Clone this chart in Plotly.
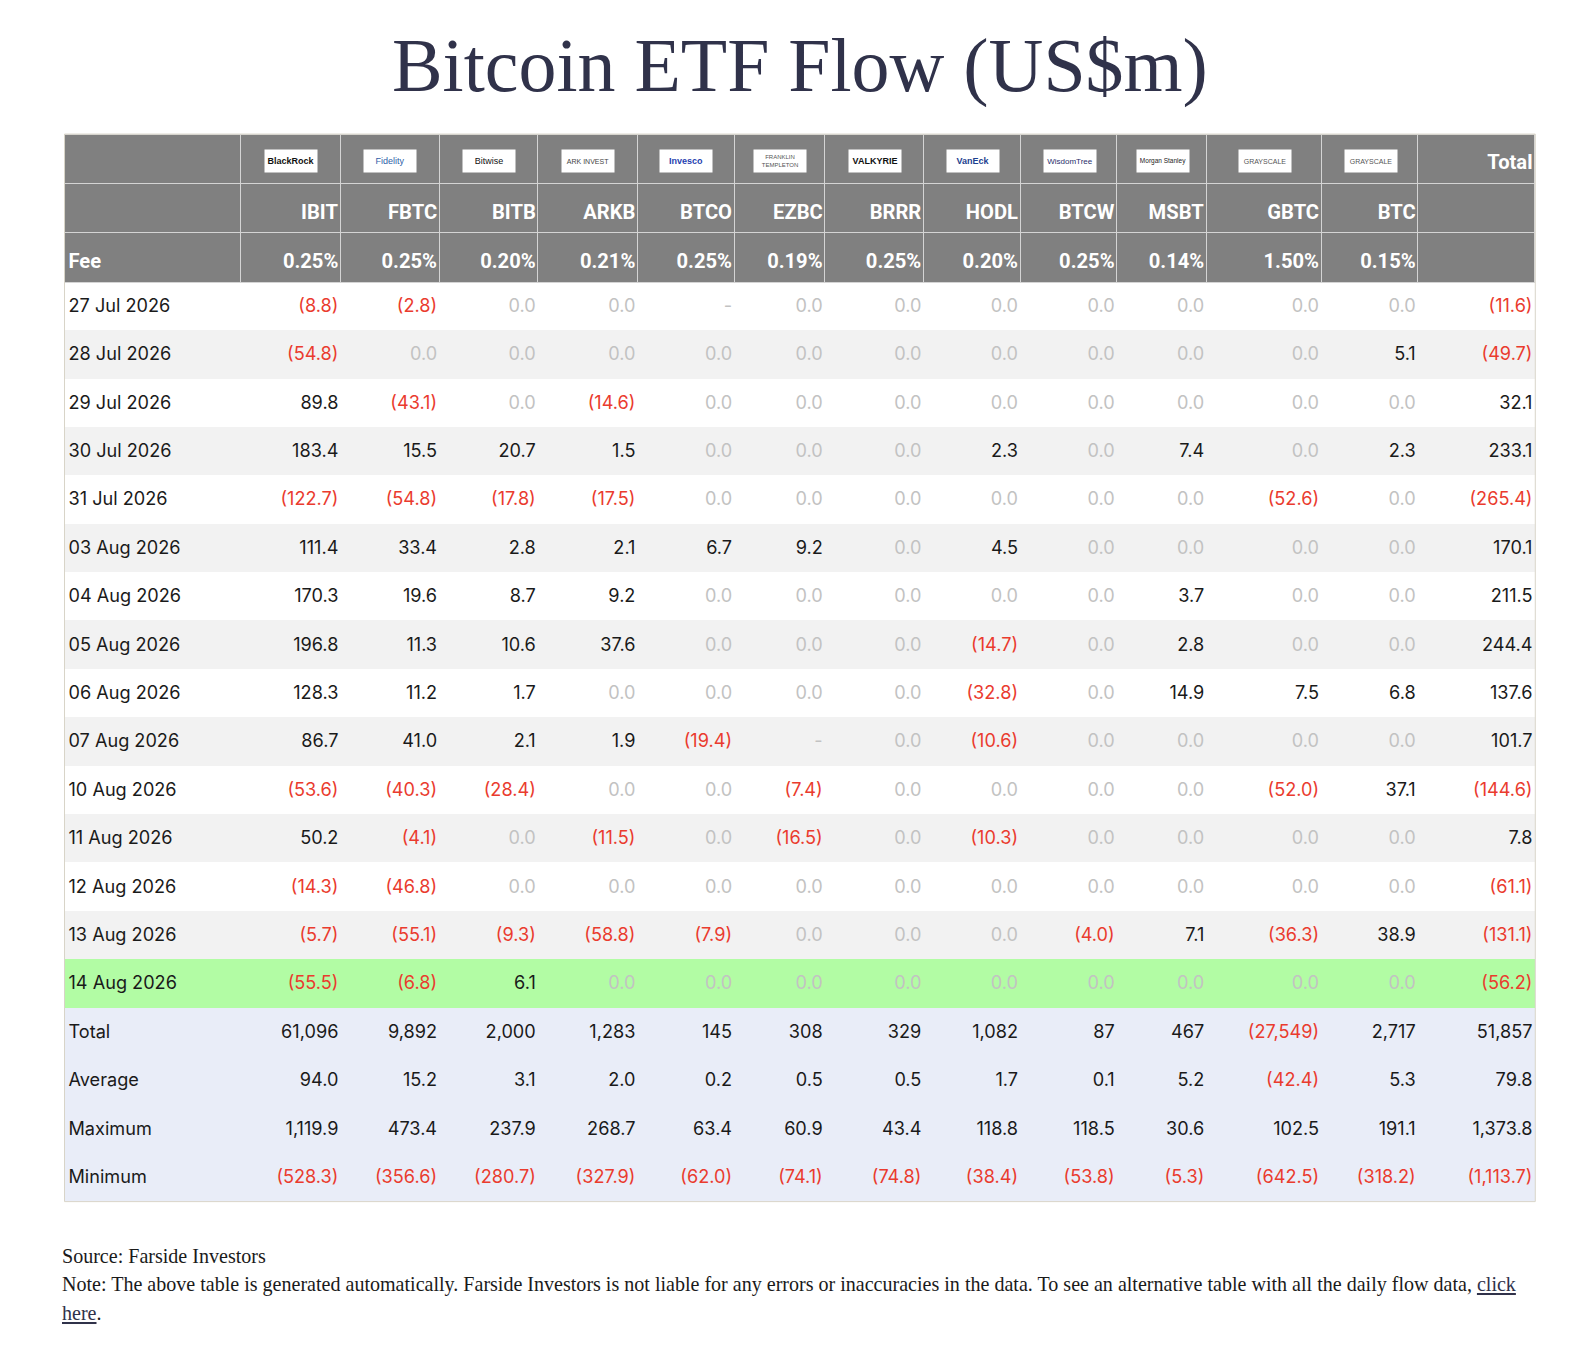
import plotly.graph_objects as go

# fund tickers, fees and the little "logo" labels over them
tickers = ['IBIT', 'FBTC', 'BITB', 'ARKB', 'BTCO', 'EZBC', 'BRRR', 'HODL', 'BTCW', 'MSBT', 'GBTC', 'BTC']
fees = ['0.25%', '0.25%', '0.20%', '0.21%', '0.25%', '0.19%', '0.25%', '0.20%', '0.25%', '0.14%', '1.50%', '0.15%']
logos = ['<b>BlackRock</b>', 'Fidelity', 'Bitwise', 'ARK INVEST', '<b>Invesco</b>', 'FRANKLIN<br>TEMPLETON',
         '<b>VALKYRIE</b>', '<b>VanEck</b>', 'WisdomTree', 'Morgan Stanley', 'GRAYSCALE', 'GRAYSCALE']
logo_colors = ['#111', '#2f5fa8', '#111', '#444', '#1f3fb0', '#555',
               '#111', '#1d3f8f', '#2a2f6b', '#222', '#555', '#555']
logo_sizes = [9, 9, 9, 7, 9, 6, 9, 9, 8, 6.5, 7, 7]

dates = ['27 Jul 2026', '28 Jul 2026', '29 Jul 2026', '30 Jul 2026', '31 Jul 2026',
         '03 Aug 2026', '04 Aug 2026', '05 Aug 2026', '06 Aug 2026', '07 Aug 2026',
         '10 Aug 2026', '11 Aug 2026', '12 Aug 2026', '13 Aug 2026', '14 Aug 2026']

# daily flows per fund (None = no data, shown as "-")
IBIT = [-8.8, -54.8, 89.8, 183.4, -122.7, 111.4, 170.3, 196.8, 128.3, 86.7, -53.6, 50.2, -14.3, -5.7, -55.5]
FBTC = [-2.8, 0.0, -43.1, 15.5, -54.8, 33.4, 19.6, 11.3, 11.2, 41.0, -40.3, -4.1, -46.8, -55.1, -6.8]
BITB = [0.0, 0.0, 0.0, 20.7, -17.8, 2.8, 8.7, 10.6, 1.7, 2.1, -28.4, 0.0, 0.0, -9.3, 6.1]
ARKB = [0.0, 0.0, -14.6, 1.5, -17.5, 2.1, 9.2, 37.6, 0.0, 1.9, 0.0, -11.5, 0.0, -58.8, 0.0]
BTCO = [None, 0.0, 0.0, 0.0, 0.0, 6.7, 0.0, 0.0, 0.0, -19.4, 0.0, 0.0, 0.0, -7.9, 0.0]
EZBC = [0.0, 0.0, 0.0, 0.0, 0.0, 9.2, 0.0, 0.0, 0.0, None, -7.4, -16.5, 0.0, 0.0, 0.0]
BRRR = [0.0, 0.0, 0.0, 0.0, 0.0, 0.0, 0.0, 0.0, 0.0, 0.0, 0.0, 0.0, 0.0, 0.0, 0.0]
HODL = [0.0, 0.0, 0.0, 2.3, 0.0, 4.5, 0.0, -14.7, -32.8, -10.6, 0.0, -10.3, 0.0, 0.0, 0.0]
BTCW = [0.0, 0.0, 0.0, 0.0, 0.0, 0.0, 0.0, 0.0, 0.0, 0.0, 0.0, 0.0, 0.0, -4.0, 0.0]
MSBT = [0.0, 0.0, 0.0, 7.4, 0.0, 0.0, 3.7, 2.8, 14.9, 0.0, 0.0, 0.0, 0.0, 7.1, 0.0]
GBTC = [0.0, 0.0, 0.0, 0.0, -52.6, 0.0, 0.0, 0.0, 7.5, 0.0, -52.0, 0.0, 0.0, -36.3, 0.0]
BTC = [0.0, 5.1, 0.0, 2.3, 0.0, 0.0, 0.0, 0.0, 6.8, 0.0, 37.1, 0.0, 0.0, 38.9, 0.0]
TOTAL = [-11.6, -49.7, 32.1, 233.1, -265.4, 170.1, 211.5, 244.4, 137.6, 101.7, -144.6, 7.8, -61.1, -131.1, -56.2]

# summary rows (13 values: 12 funds + total)
total_all = [61096, 9892, 2000, 1283, 145, 308, 329, 1082, 87, 467, -27549, 2717, 51857]
average_all = [94.0, 15.2, 3.1, 2.0, 0.2, 0.5, 0.5, 1.7, 0.1, 5.2, -42.4, 5.3, 79.8]
maximum_all = [1119.9, 473.4, 237.9, 268.7, 63.4, 60.9, 43.4, 118.8, 118.5, 30.6, 102.5, 191.1, 1373.8]
minimum_all = [-528.3, -356.6, -280.7, -327.9, -62.0, -74.1, -74.8, -38.4, -53.8, -5.3, -642.5, -318.2, -1113.7]

flows = [IBIT, FBTC, BITB, ARKB, BTCO, EZBC, BRRR, HODL, BTCW, MSBT, GBTC, BTC, TOTAL]

RED = '#ea3b2e'
GREY = '#c2c2c2'
BLACK = '#1a1a1a'
HEADER_BG = '#808080'
ROW_A = 'white'
ROW_B = '#f2f2f2'
TODAY = '#b2fca4'
SUMMARY = '#e9edf8'
CLEAR = 'rgba(0,0,0,0)'


def fmt(v, dec=1):
    if v is None:
        return '-'
    s = f'{abs(v):,.{dec}f}'
    return f'({s})' if v < 0 else s


def colour(v):
    if v is None or v == 0:
        return GREY
    return RED if v < 0 else BLACK


first_col = dates + ['Total', 'Average', 'Maximum', 'Minimum']
n_rows = len(first_col)
n_cols = len(flows) + 1

row_fill = [ROW_A if i % 2 == 0 else ROW_B for i in range(len(dates))]
row_fill[-1] = TODAY
row_fill += [SUMMARY] * 4

cell_values = [first_col]
cell_colors = [[BLACK] * n_rows]
for j, series in enumerate(flows):
    col = [fmt(v) for v in series]
    cols = [colour(v) for v in series]
    col.append(fmt(total_all[j], 0))
    cols.append(RED if total_all[j] < 0 else BLACK)
    for summ in (average_all, maximum_all, minimum_all):
        col.append(fmt(summ[j]))
        cols.append(RED if summ[j] < 0 else BLACK)
    cell_values.append(col)
    cell_colors.append(cols)

header_values = [['', '', '<b>Fee</b>']]
for t, f in zip(tickers, fees):
    header_values.append(['', f'<b>{t}</b>', f'<b>{f}</b>'])
header_values.append(['<b>Total</b>', '', ''])

col_widths = [175, 99, 98, 98, 99, 96, 90, 98, 96, 96, 89, 114, 96, 116]

# the page body has an 8px margin, so the figure sits 8px in from the window edge.
# the snapshot comes out about 0.8% smaller than the page, so sizes are scaled up by 1/S
OFF = 8
S = 0.992
W, H = 1545, 1325
left, right, top, bottom = 64, 1523, 133, 1192
HEAD_H, ROW_H = 49 / S, 48 / S
# plotly pads table text by 8px and sets it high in the cell: the text layer is
# moved so it sits where the reference has it (4px in on the left, 2px on the right)
TEXT_DROP = 8
PAD_L, PAD_R = 4, 8 - 2


def px(x):
    return (x / S - OFF) / W


def py(y):
    return 1 - (y / S - OFF) / H


# table 1: fills and rules only
blank_head = [['', '', ''] for _ in range(n_cols)]
blank_cells = [[''] * n_rows for _ in range(n_cols)]
bg = go.Table(
    columnwidth=col_widths,
    domain=dict(x=[px(left), px(right)], y=[py(bottom), py(top)]),
    header=dict(values=blank_head, fill_color=HEADER_BG,
                line=dict(color='#d4d4d4', width=1), height=HEAD_H),
    cells=dict(values=blank_cells, fill_color=[row_fill] * n_cols,
               line=dict(color=[row_fill] * n_cols, width=1), height=ROW_H),
)

# table 2: the text, on a clear background
text_widths = [col_widths[0] + (8 - PAD_L) + PAD_R] + col_widths[1:]
fg = go.Table(
    columnwidth=text_widths,
    domain=dict(x=[px(left - (8 - PAD_L)), px(right + PAD_R)],
                y=[py(bottom + TEXT_DROP), py(top + TEXT_DROP)]),
    header=dict(
        values=header_values,
        fill_color=CLEAR,
        line=dict(color=CLEAR, width=0),
        font=dict(family='Roboto, Arial, sans-serif', size=20 / S, color='white'),
        align=['left'] + ['right'] * 13,
        height=HEAD_H,
    ),
    cells=dict(
        values=cell_values,
        fill_color=CLEAR,
        line=dict(color=CLEAR, width=0),
        font=dict(family='Inter, Arial, sans-serif', size=18 / S, color=cell_colors),
        align=['left'] + ['right'] * 13,
        height=ROW_H,
    ),
)

fig = go.Figure([bg, fg])

# thin frame round the table
fig.add_shape(type='rect', xref='paper', yref='paper',
              x0=px(left), x1=px(right), y0=py(bottom), y1=py(top),
              line=dict(color='#d8d4c8', width=1))

# white logo boxes in the first header row
x0 = left
for j, name in enumerate(logos):
    x0 += col_widths[j]
    xc = x0 + col_widths[j + 1] / 2
    fig.add_annotation(
        x=px(xc), y=py(160), xref='paper', yref='paper',
        xanchor='center', yanchor='middle',
        text=name, showarrow=False,
        font=dict(family='Arial, sans-serif', size=logo_sizes[j], color=logo_colors[j]),
        bgcolor='white', width=50, height=20, borderpad=1,
    )

fig.add_annotation(
    x=px(794), y=py(65), xref='paper', yref='paper',
    xanchor='center', yanchor='middle', showarrow=False,
    text='Bitcoin ETF Flow (US$m)',
    font=dict(family='Liberation Serif, serif', size=75.3 / S, color='#30324a'),
)

foot = dict(family='Liberation Serif, serif', size=19.9 / S, color='#1a1a1a')
link = '<span style="color:#30324a"><u>{}</u></span>'
fx = 60
fig.add_annotation(x=px(fx), y=py(1246), xref='paper', yref='paper', showarrow=False,
                   xanchor='left', yanchor='middle', text='Source: Farside Investors', font=foot)
fig.add_annotation(x=px(fx), y=py(1274), xref='paper', yref='paper', showarrow=False,
                   xanchor='left', yanchor='middle',
                   text='Note: The above table is generated automatically. Farside Investors is not liable for any '
                        'errors or inaccuracies in the data. To see an alternative table with all the daily flow data, '
                        + link.format('click'),
                   font=foot)
fig.add_annotation(x=px(fx), y=py(1302), xref='paper', yref='paper', showarrow=False,
                   xanchor='left', yanchor='middle', text=link.format('here') + '.', font=foot)

fig.update_layout(
    width=W, height=H,
    margin=dict(l=0, r=0, t=0, b=0),
    paper_bgcolor='white',
)
fig.write_html('out.html')
